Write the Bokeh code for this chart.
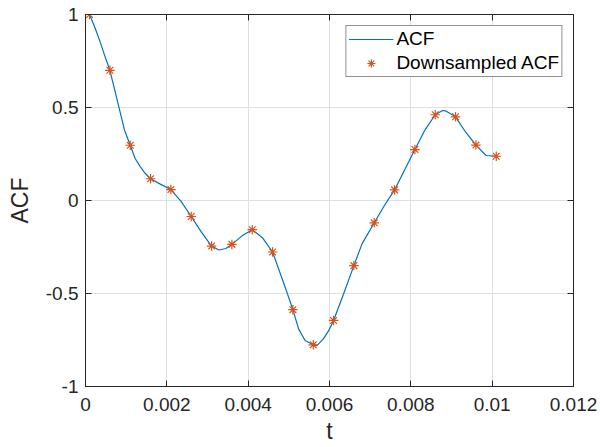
from bokeh.plotting import figure
from bokeh.models import LinearAxis, FixedTicker, Range1d, Legend, LegendItem
from bokeh.embed import file_html
from bokeh.resources import INLINE

# Continuous ACF curve
t_line = [0.0001, 0.00024, 0.00036, 0.00047, 0.0006, 0.00073, 0.00085, 0.00096,
          0.0011, 0.00122, 0.00135, 0.00147, 0.0016, 0.00184, 0.0021, 0.00235,
          0.0026, 0.00285, 0.0031, 0.00328, 0.00345, 0.0036, 0.00385, 0.0041,
          0.00435, 0.0046, 0.00491, 0.0051, 0.00524, 0.0054, 0.0056, 0.00569,
          0.00585, 0.00598, 0.0061, 0.00635, 0.0066, 0.0068, 0.0071, 0.00735,
          0.0076, 0.00785, 0.0081, 0.00835, 0.0086, 0.00878, 0.00885, 0.0091,
          0.00935, 0.0096, 0.00985, 0.0101]
acf_line = [1.0, 0.925, 0.853, 0.78, 0.70, 0.584, 0.477, 0.378,
            0.297, 0.226, 0.181, 0.145, 0.117, 0.088, 0.059, -0.005,
            -0.086, -0.17, -0.245, -0.266, -0.258, -0.236, -0.19, -0.157,
            -0.20, -0.277, -0.466, -0.587, -0.69, -0.753, -0.776, -0.78,
            -0.744, -0.70, -0.645, -0.50, -0.35, -0.233, -0.12, -0.027,
            0.057, 0.165, 0.274, 0.38, 0.461, 0.484, 0.482, 0.45,
            0.367, 0.298, 0.242, 0.238]

# Downsampled ACF points
t_ds = [0.0001, 0.0006, 0.0011, 0.0016, 0.0021, 0.0026, 0.0031, 0.0036,
        0.0041, 0.0046, 0.0051, 0.0056, 0.0061, 0.0066, 0.0071, 0.0076,
        0.0081, 0.0086, 0.0091, 0.0096, 0.0101]
acf_ds = [1.0, 0.70, 0.297, 0.117, 0.059, -0.086, -0.245, -0.236,
          -0.157, -0.277, -0.587, -0.776, -0.645, -0.35, -0.12, 0.057,
          0.274, 0.461, 0.45, 0.298, 0.238]

x_ticks = [0, 0.002, 0.004, 0.006, 0.008, 0.01, 0.012]
x_tick_labels = ["0", "0.002", "0.004", "0.006", "0.008", "0.01", "0.012"]
y_ticks = [-1, -0.5, 0, 0.5, 1]
y_tick_labels = ["-1", "-0.5", "0", "0.5", "1"]
x_title = "t"
y_title = "ACF"
series_names = ["ACF", "Downsampled ACF"]

FONT = "Liberation Sans"
AX = "#262626"

p = figure(width=600, height=447, x_range=Range1d(0, 0.012), y_range=Range1d(-1, 1),
           output_backend="svg", toolbar_location=None,
           min_border_left=85, min_border_right=27, min_border_top=14, min_border_bottom=61)
p.background_fill_color = "white"
p.border_fill_color = "white"
p.outline_line_color = AX
p.outline_line_width = 1

ln = p.line(t_line, acf_line, line_color="#0072BD", line_width=1.2)
sc = p.scatter(t_ds, acf_ds, marker="asterisk", size=9.5, line_color="#D95319", line_width=1.2)

def style_axis(ax, ticks, labels, show_labels):
    ax.ticker = FixedTicker(ticks=ticks)
    ax.major_tick_in = 6
    ax.major_tick_out = 0
    ax.minor_tick_in = 0
    ax.minor_tick_out = 0
    ax.axis_line_color = AX
    ax.major_tick_line_color = AX
    ax.major_label_text_color = AX
    ax.major_label_text_font = FONT
    if show_labels:
        ax.major_label_overrides = {v: l for v, l in zip(ticks, labels)}
        ax.major_label_text_font_size = "19px"
    else:
        ax.major_label_overrides = {v: "" for v in ticks}
        ax.major_label_text_font_size = "0px"
        ax.major_label_standoff = 0

style_axis(p.xaxis[0], x_ticks, x_tick_labels, True)
style_axis(p.yaxis[0], y_ticks, y_tick_labels, True)
p.xaxis[0].major_label_standoff = 11
p.yaxis[0].major_label_standoff = 7
p.xaxis[0].axis_label = x_title
p.yaxis[0].axis_label = y_title
for ax in (p.xaxis[0], p.yaxis[0]):
    ax.axis_label_text_font = FONT
    ax.axis_label_text_font_size = "23px"
    ax.axis_label_text_font_style = "normal"
    ax.axis_label_text_color = AX
p.xaxis[0].axis_label_standoff = 4
p.yaxis[0].axis_label_standoff = 10

top = LinearAxis()
style_axis(top, x_ticks, x_tick_labels, False)
p.add_layout(top, "above")
right = LinearAxis()
style_axis(right, y_ticks, y_tick_labels, False)
p.add_layout(right, "right")

p.xgrid.ticker = FixedTicker(ticks=x_ticks)
p.ygrid.ticker = FixedTicker(ticks=y_ticks)
p.grid.grid_line_color = "#dfdfdf"
p.grid.grid_line_width = 1

legend = Legend(items=[LegendItem(label=series_names[0], renderers=[ln]),
                       LegendItem(label=series_names[1], renderers=[sc])],
                location="top_right")
legend.margin = 11
legend.padding = 2
legend.spacing = 2
legend.glyph_width = 45
legend.glyph_height = 20
legend.label_height = 20
legend.label_standoff = 3
legend.label_text_font = FONT
legend.label_text_font_size = "19px"
legend.label_text_color = "black"
legend.border_line_color = AX
legend.border_line_width = 1
legend.background_fill_color = "white"
legend.background_fill_alpha = 1
p.add_layout(legend, "center")

open("out.html", "w").write(file_html(p, INLINE))
